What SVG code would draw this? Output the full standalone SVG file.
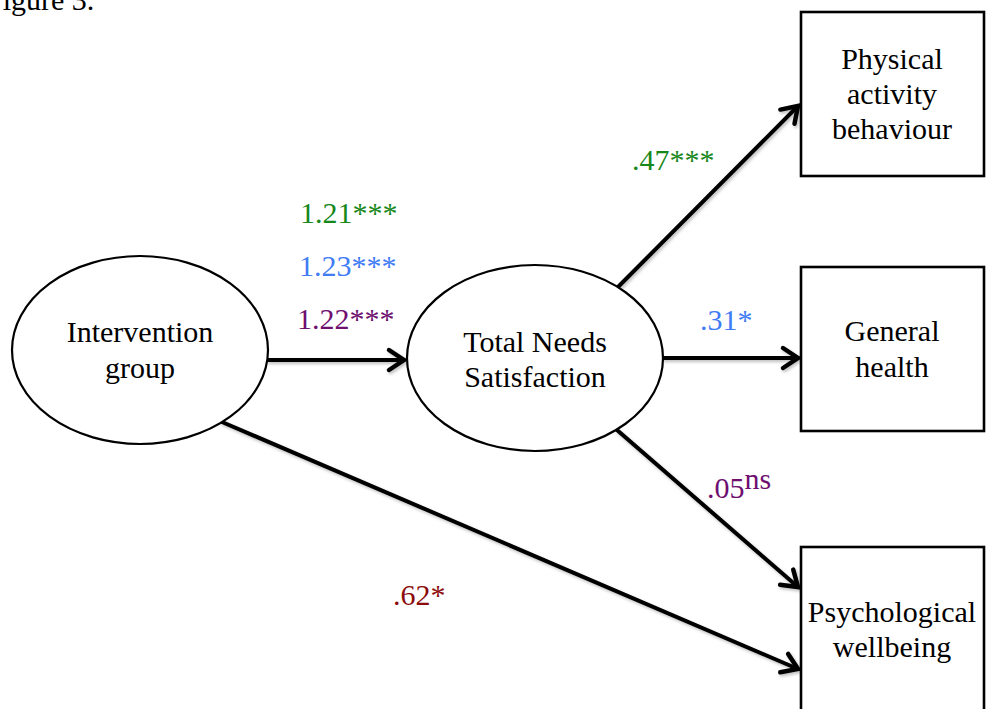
<svg xmlns="http://www.w3.org/2000/svg" width="986" height="709" viewBox="0 0 986 709">
<style>
  text { font-family: "Liberation Serif", "Times New Roman", serif; font-size: 30px; }
  .node { fill: #ffffff; stroke: #000000; stroke-width: 2.2; }
  .box { fill: #ffffff; stroke: #000000; stroke-width: 2.6; }
  .lbl { text-anchor: middle; fill: #000000; }
  .conn { stroke: #000000; stroke-width: 4; fill: none; stroke-linecap: round; marker-end: url(#arrow); filter: url(#sh); }
  .green { fill: #17871a; }
  .blue { fill: #3f7cf5; }
  .purple { fill: #6e0f70; }
  .red { fill: #8c0c0c; }
</style>
<defs>
  <marker id="arrow" markerUnits="userSpaceOnUse" markerWidth="30" markerHeight="30" viewBox="-20 -15 24 30" refX="0" refY="0" orient="auto">
    <path d="M-15,-10 L0,0 L-15,10" fill="none" stroke="#000000" stroke-width="4.5" stroke-linecap="round" stroke-linejoin="miter"/>
  </marker>
  <filter id="sh" filterUnits="userSpaceOnUse" x="0" y="0" width="986" height="709">
    <feDropShadow dx="1.5" dy="2" stdDeviation="1.5" flood-color="#000000" flood-opacity="0.25"/>
  </filter>
</defs>
<rect x="0" y="0" width="986" height="709" fill="#ffffff"/>
<text x="-14" y="10">Figure 3.</text>
<g id="connectors">
  <line class="conn" x1="268" y1="360" x2="404" y2="360"/>
  <line class="conn" x1="618" y1="287" x2="798" y2="106"/>
  <line class="conn" x1="663" y1="358" x2="798" y2="358"/>
  <line class="conn" x1="617" y1="430" x2="798" y2="587"/>
  <line class="conn" x1="222" y1="422" x2="798" y2="669"/>
</g>
<g id="labels">
  <text x="300" y="223" class="green">1.21***</text>
  <text x="299" y="276" class="blue">1.23***</text>
  <text x="297" y="329" class="purple">1.22***</text>
  <text x="632" y="170" class="green">.47***</text>
  <text x="700" y="330" class="blue">.31*</text>
  <text x="707" y="498" class="purple">.05<tspan dy="-9">ns</tspan></text>
  <text x="393" y="605" class="red">.62*</text>
</g>
<g id="node-intervention">
  <ellipse class="node" cx="140" cy="350" rx="128" ry="94"/>
  <text class="lbl" x="140" y="342">Intervention</text>
  <text class="lbl" x="140" y="378">group</text>
</g>
<g id="node-needs">
  <ellipse class="node" cx="535" cy="358" rx="128" ry="93"/>
  <text class="lbl" x="535" y="352">Total Needs</text>
  <text class="lbl" x="535" y="387">Satisfaction</text>
</g>
<g id="node-physical">
  <rect class="box" x="801" y="12" width="183" height="164"/>
  <text class="lbl" x="892" y="69">Physical</text>
  <text class="lbl" x="892" y="104">activity</text>
  <text class="lbl" x="892" y="139">behaviour</text>
</g>
<g id="node-health">
  <rect class="box" x="801" y="267" width="183" height="164"/>
  <text class="lbl" x="892" y="341">General</text>
  <text class="lbl" x="892" y="377">health</text>
</g>
<g id="node-wellbeing">
  <rect class="box" x="801" y="547" width="183" height="200"/>
  <text class="lbl" x="892" y="622">Psychological</text>
  <text class="lbl" x="892" y="657">wellbeing</text>
</g>
</svg>
